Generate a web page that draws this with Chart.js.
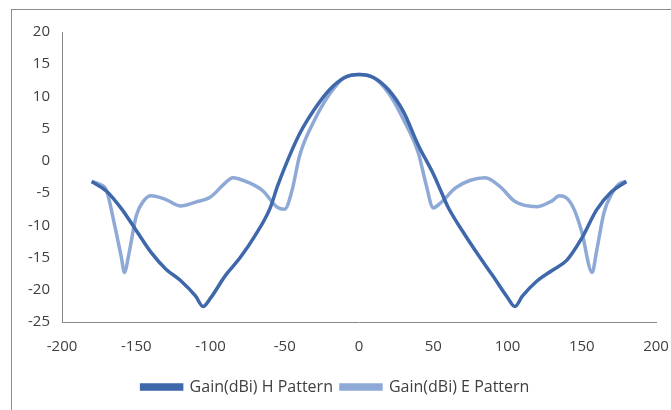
<!DOCTYPE html>
<html>
<head>
<meta charset="utf-8">
<script src="https://cdn.jsdelivr.net/npm/chart.js@4"></script>
<style>
  html, body { margin: 0; padding: 0; background: #fff; }
  #frame {
    position: absolute; left: 11px; top: 9px; width: 700px; height: 500px;
    border-left: 1px solid #8c8c8c; border-top: 1px solid #8c8c8c;
  }
  #wrap { position: absolute; left: 0; top: 0; width: 671px; height: 410px; }
</style>
</head>
<body>
<div id="frame"></div>
<div id="wrap"><canvas id="myPattern" width="671" height="410"></canvas></div>
<script>
// angles (deg) and gain (dBi)
const hAngles = [-180, -170, -160, -150, -140, -130, -120, -110, -105, -100, -90, -80, -70, -60, -55, -50, -40, -30, -20, -10, 0,
  10, 20, 30, 40, 50, 55, 60, 70, 80, 90, 100, 105, 110, 120, 130, 140, 150, 160, 170, 180];
const hGain = [-3.2, -4.7, -7.4, -10.8, -14.2, -16.8, -18.6, -21.0, -22.6, -21.3, -17.8, -15.0, -11.6, -7.4, -4.0, -1.0, 4.2, 8.0, 11.0, 12.9, 13.4,
  12.9, 11.0, 7.6, 2.4, -2.0, -4.6, -7.2, -11.0, -14.5, -17.8, -21.2, -22.6, -21.0, -18.6, -17.0, -15.4, -12.0, -7.6, -4.8, -3.2];

const eAngles = [-180, -175, -170, -165, -160, -158, -155, -150, -145, -140, -130, -120, -110, -100, -90, -85, -75, -65, -55, -50, -45, -40, -30, -20, -10, 0,
  10, 20, 30, 40, 45, 50, 55, 65, 75, 85, 95, 105, 120, 130, 135, 140, 145, 150, 157, 160, 165, 170, 175, 180];
const eGain = [-3.2, -3.6, -4.6, -9.5, -15.0, -17.3, -14.5, -8.5, -6.2, -5.4, -6.0, -7.0, -6.4, -5.6, -3.4, -2.6, -3.3, -4.6, -7.2, -7.5, -4.5, 0.8, 6.3, 10.3, 12.9, 13.4,
  12.9, 10.5, 6.4, 1.2, -3.5, -7.3, -6.5, -4.2, -3.0, -2.6, -4.0, -6.3, -7.1, -6.2, -5.4, -5.8, -7.6, -11.0, -17.3, -14.0, -8.0, -5.2, -3.6, -3.2];

const xTicks = [-200, -150, -100, -50, 0, 50, 100, 150, 200];

const hColor = '#3e68aa';
const eColor = '#8ea9d6';
const textColor = '#404040';
const tickFont = { family: 'Open Sans', size: 15 };
const legendFont = { family: 'Open Sans', size: 16 };

const toPoints = (xs, ys) => xs.map((x, i) => ({ x: x, y: ys[i] }));

var ctx = document.getElementById('myPattern');

new Chart(ctx, {
  type: 'scatter',
  data: {
    datasets: [
      {
        label: 'Gain(dBi) H Pattern',
        data: toPoints(hAngles, hGain),
        borderColor: hColor,
        backgroundColor: hColor,
      },
      {
        label: 'Gain(dBi) E Pattern',
        data: toPoints(eAngles, eGain),
        borderColor: eColor,
        backgroundColor: eColor,
      },
    ],
  },
  options: {
    responsive: false,
    animation: false,
    showLine: true,
    elements: {
      point: { radius: 0, hoverRadius: 0 },
      line: { borderWidth: 3.5, cubicInterpolationMode: 'monotone' },
    },
    layout: { padding: { left: 0, top: 32, right: 0, bottom: 5 } },
    scales: {
      x: {
        type: 'linear',
        min: -200,
        max: 200,
        afterBuildTicks: axis => { axis.ticks = xTicks.map(v => ({ value: v })); },
        afterFit: axis => {
          axis.height = 49;
          axis.paddingLeft = 0;
          axis.paddingRight = 15;
        },
        grid: { display: false, drawTicks: false },
        border: { color: '#888888', width: 1 },
        ticks: { color: textColor, font: tickFont, padding: 16, maxRotation: 0 },
      },
      y: {
        min: -25,
        max: 20,
        afterFit: axis => { axis.width = 62; },
        grid: { display: false, drawTicks: false },
        border: { color: '#888888', width: 1 },
        ticks: { stepSize: 5, color: textColor, font: tickFont, padding: 12 },
      },
    },
    plugins: {
      tooltip: { enabled: false },
      legend: {
        position: 'bottom',
        labels: {
          color: textColor,
          font: legendFont,
          boxWidth: 40,
          boxHeight: 4,
          padding: 8,
        },
      },
    },
  },
});
</script>
</body>
</html>
